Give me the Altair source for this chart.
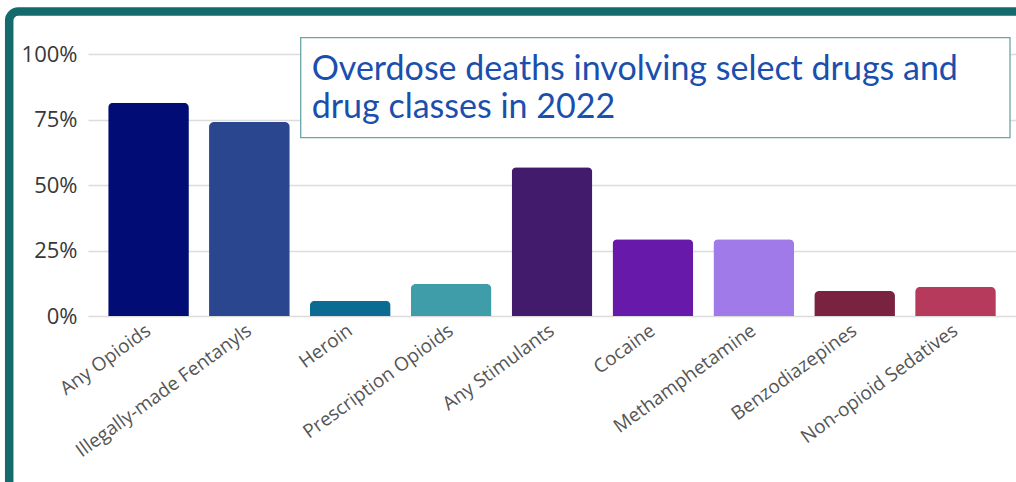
import altair as alt
import pandas as pd

drugs = ["Any Opioids", "Illegally-made Fentanyls", "Heroin", "Prescription Opioids",
         "Any Stimulants", "Cocaine", "Methamphetamine", "Benzodiazepines",
         "Non-opioid Sedatives"]
pct = [81.4, 74.0, 5.8, 12.2, 56.8, 29.3, 29.3, 9.5, 11.1]
colors = ["#010c74", "#29468f", "#0c6b93", "#3f9ca9", "#421b6c",
          "#6719aa", "#a07ae8", "#7a2340", "#b63a5c"]
title_lines = ["Overdose deaths involving select drugs and", "drug classes in 2022"]
tick_values = [0, 0.25, 0.5, 0.75, 1.0]

df = pd.DataFrame({"drug": drugs, "share": [p / 100 for p in pct], "color": colors})
one = pd.DataFrame({"k": [0]})

W, H = 928, 262
L, T = 88, 54

frame = alt.Chart(one).mark_rect(
    fill="transparent", stroke="#156b6c", strokeWidth=8.5, cornerRadius=9
).encode(
    x=alt.value(9.2 - L), x2=alt.value(1200), y=alt.value(11.5 - T), y2=alt.value(700)
)

bars = alt.Chart(df).mark_bar(cornerRadiusTopLeft=5, cornerRadiusTopRight=5).encode(
    x=alt.X("drug:N", sort=drugs, title=None,
            scale=alt.Scale(paddingInner=0.2, paddingOuter=0.2),
            axis=alt.Axis(labelAngle=-36, labelAlign="right", labelBaseline="middle",
                          labelPadding=12, labelFontSize=19, labelFont="Open Sans",
                          labelColor="#555555", ticks=False, domain=False, grid=False,
                          labelLimit=400)),
    y=alt.Y("share:Q", title=None, scale=alt.Scale(domain=[0, 1]),
            axis=alt.Axis(format=".0%", values=tick_values, labelFontSize=22,
                          labelFont="Open Sans", labelColor="#383838", ticks=False,
                          domain=False, labelPadding=11, gridColor="#dcdcdc",
                          gridWidth=1.5)),
    color=alt.Color("color:N", scale=None),
)

box = alt.Chart(one).mark_rect(fill="white", stroke="#6aa6a8", strokeWidth=1.3).encode(
    x=alt.value(300.7 - L), x2=alt.value(1010 - L),
    y=alt.value(37.7 - T), y2=alt.value(137.7 - T)
)

title = alt.Chart(one).mark_text(
    align="left", baseline="alphabetic", font="Lato", lineBreak="\n",
    lineHeight=38, fontSize=34, color="#1a4fae"
).encode(
    x=alt.value(311.7 - L),
    y=alt.value(80 - T),
    text=alt.value("\n".join(title_lines)),
)

chart = alt.layer(frame, bars, box, title).properties(
    width=W, height=H,
    autosize=alt.AutoSizeParams(type="none"),
    padding={"left": L, "top": T, "right": 0, "bottom": 482 - T - H},
    background="white",
).configure_view(stroke=None)

chart.save("out.html", embed_options={"renderer": "svg", "actions": False})
